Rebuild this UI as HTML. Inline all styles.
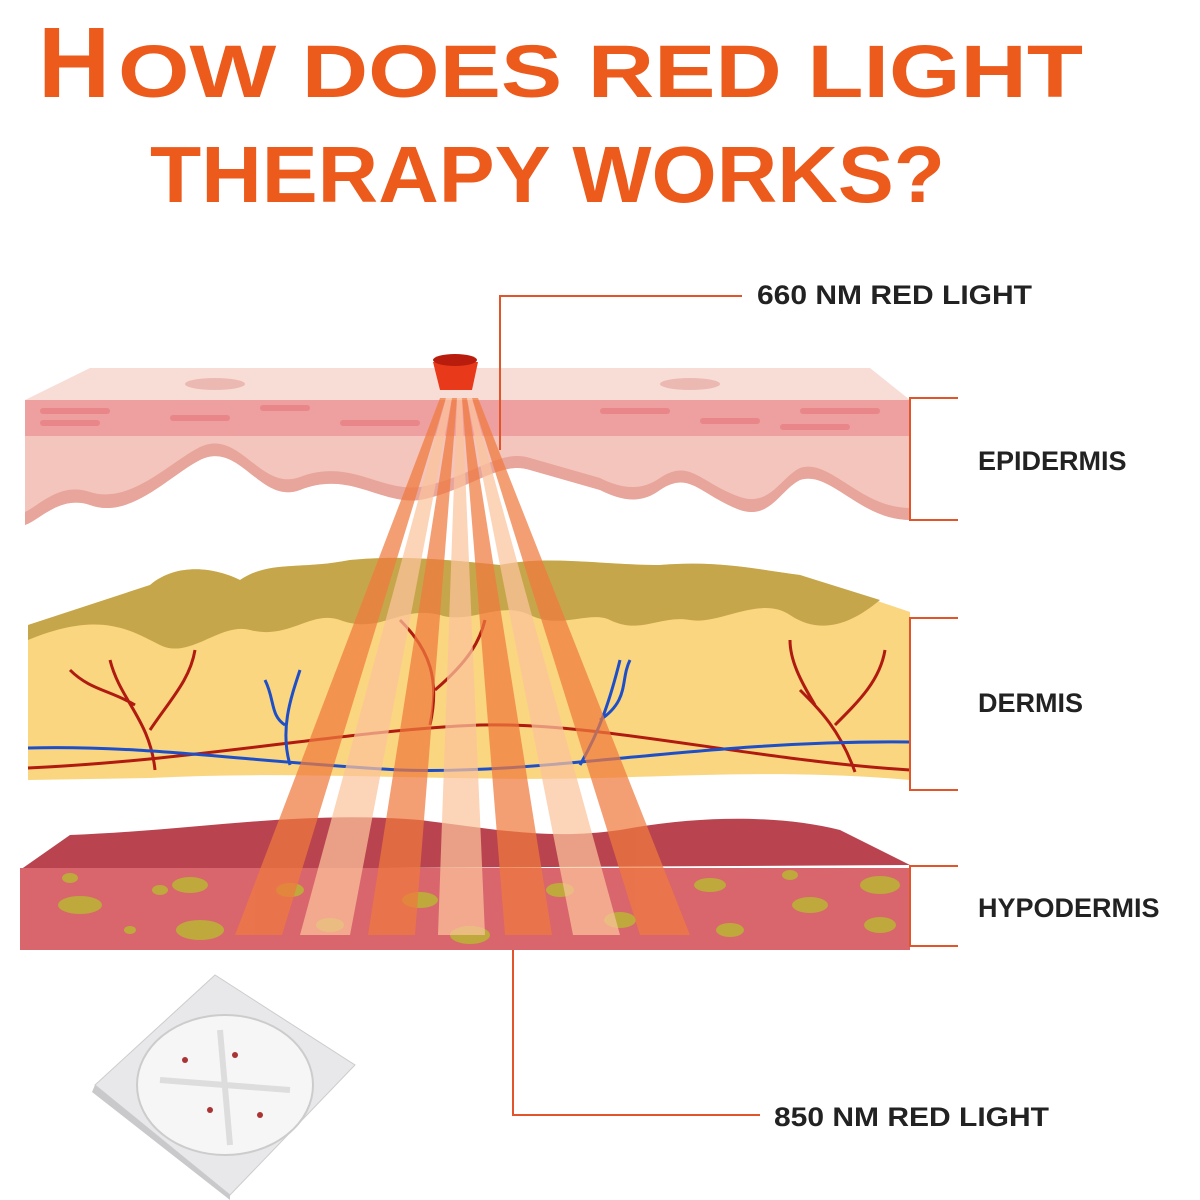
<!DOCTYPE html>
<html><head><style>
body{margin:0;background:#fff;}
svg{display:block;}
</style></head><body>
<svg width="1200" height="1200" viewBox="0 0 1200 1200" xmlns="http://www.w3.org/2000/svg">
<rect width="1200" height="1200" fill="#fff"/>
<!-- Title -->
<g font-family="Liberation Sans, sans-serif" font-weight="bold" fill="#ec5a1c">
<text x="38" y="97" font-size="100">H</text>
<text x="118" y="97" font-size="74" textLength="965" lengthAdjust="spacingAndGlyphs">OW DOES RED LIGHT</text>
<text x="150" y="202" font-size="80" textLength="795" lengthAdjust="spacingAndGlyphs">THERAPY WORKS?</text>
</g>
<!-- Epidermis -->
<polygon points="25,400 90,368 870,368 910,400" fill="#f8dcd6"/>
<ellipse cx="215" cy="384" rx="30" ry="6" fill="#ecb8b2"/>
<ellipse cx="690" cy="384" rx="30" ry="6" fill="#ecb8b2"/>
<path d="M25,400 H910 V520 C860,520 830,470 800,480 C780,490 770,520 740,510 C700,495 690,470 660,490 C640,505 620,500 600,490 L530,470 C500,460 470,490 420,500 C380,505 350,470 300,490 C260,505 240,440 200,460 C170,475 130,520 90,505 C60,495 40,520 25,525 Z" fill="#f4c5bc"/>
<path d="M25,512 C40,505 60,482 90,492 C130,505 170,462 200,447 C240,428 260,492 300,477 C350,458 380,492 420,487 C470,478 500,448 530,458 L600,478 C620,488 640,492 660,478 C690,458 700,483 740,497 C770,507 780,478 800,468 C830,458 860,508 910,508 V520 C860,520 830,470 800,480 C780,490 770,520 740,510 C700,495 690,470 660,490 C640,505 620,500 600,490 L530,470 C500,460 470,490 420,500 C380,505 350,470 300,490 C260,505 240,440 200,460 C170,475 130,520 90,505 C60,495 40,520 25,525 Z" fill="#e7a59c"/>
<rect x="25" y="400" width="885" height="36" fill="#ee9fa0"/>
<g fill="#e9868a">
<rect x="40" y="408" width="70" height="6" rx="3"/><rect x="170" y="415" width="60" height="6" rx="3"/><rect x="260" y="405" width="50" height="6" rx="3"/>
<rect x="40" y="420" width="60" height="6" rx="3"/><rect x="340" y="420" width="80" height="6" rx="3"/><rect x="600" y="408" width="70" height="6" rx="3"/>
<rect x="700" y="418" width="60" height="6" rx="3"/><rect x="800" y="408" width="80" height="6" rx="3"/><rect x="780" y="424" width="70" height="6" rx="3"/>
</g>
<!-- Dermis -->
<path d="M28,625 L150,585 C180,560 220,570 240,580 C270,560 300,570 350,560 C400,555 450,560 500,565 C550,555 600,565 660,565 C720,560 760,570 800,575 L910,612 V780 C800,770 700,775 600,778 C450,782 300,770 150,778 L28,780 Z" fill="#f9d67f"/>
<path d="M28,625 L150,585 C180,560 220,570 240,580 C270,560 300,570 350,560 C400,555 450,560 500,565 C550,555 600,565 660,565 C720,560 760,570 800,575 L880,600 C850,625 820,635 790,615 C760,595 720,625 690,620 C660,615 640,635 610,620 C590,610 560,630 530,615 C500,600 470,625 440,615 C400,605 380,635 340,620 C310,610 290,640 250,630 C220,622 190,660 160,645 C130,630 100,610 28,640 Z" fill="#c6a64a"/>
<g stroke="#b01a10" stroke-width="3" fill="none">
<path d="M28,768 C200,760 350,730 480,725 C600,722 750,760 910,770"/>
<path d="M155,770 C150,720 120,700 110,660 M150,730 C170,700 190,680 195,650 M135,705 C110,690 90,690 70,670"/>
<path d="M430,725 C440,680 430,650 400,620 M435,690 C470,660 480,640 485,620"/>
<path d="M855,772 C840,730 820,710 800,690 M835,725 C860,700 880,680 885,650 M815,705 C800,680 790,660 790,640"/>
</g>
<g stroke="#1e4fc8" stroke-width="3" fill="none">
<path d="M28,748 C150,745 250,762 400,770 C550,775 700,740 910,742"/>
<path d="M290,765 C280,730 290,700 300,670 M285,725 C270,715 275,700 265,680"/>
<path d="M580,765 C600,730 610,700 620,660 M600,720 C630,700 620,680 630,660"/>
</g>
<!-- Hypodermis -->
<path d="M20,870 L70,835 C200,830 300,810 420,820 C500,830 550,840 620,830 C700,815 780,815 840,830 L910,865 Z" fill="#b9444f"/>
<rect x="20" y="868" width="890" height="82" fill="#d9656d"/>
<g fill="#bfa83c">
<ellipse cx="70" cy="878" rx="8" ry="5"/><ellipse cx="80" cy="905" rx="22" ry="9"/><ellipse cx="160" cy="890" rx="8" ry="5"/><ellipse cx="200" cy="930" rx="24" ry="10"/><ellipse cx="130" cy="930" rx="6" ry="4"/>
<ellipse cx="190" cy="885" rx="18" ry="8"/><ellipse cx="290" cy="890" rx="14" ry="7"/><ellipse cx="330" cy="925" rx="14" ry="7"/><ellipse cx="420" cy="900" rx="18" ry="8"/>
<ellipse cx="470" cy="935" rx="20" ry="9"/><ellipse cx="560" cy="890" rx="14" ry="7"/><ellipse cx="620" cy="920" rx="16" ry="8"/><ellipse cx="710" cy="885" rx="16" ry="7"/>
<ellipse cx="730" cy="930" rx="14" ry="7"/><ellipse cx="810" cy="905" rx="18" ry="8"/><ellipse cx="880" cy="885" rx="20" ry="9"/><ellipse cx="880" cy="925" rx="16" ry="8"/><ellipse cx="790" cy="875" rx="8" ry="5"/>
</g>
<!-- Beams -->
<g opacity="0.72">
<polygon points="440,398 446,398 282,935 235,935" fill="#f07a3e"/>
<polygon points="446,398 452,398 350,935 300,935" fill="#fcc49c"/>
<polygon points="452,398 457,398 415,935 368,935" fill="#f07a3e"/>
<polygon points="457,398 462,398 485,935 438,935" fill="#fcc49c"/>
<polygon points="462,398 467,398 552,935 505,935" fill="#f07a3e"/>
<polygon points="467,398 472,398 620,935 573,935" fill="#fcc49c"/>
<polygon points="472,398 478,398 690,935 640,935" fill="#f07a3e"/>
</g>
<!-- LED -->
<path d="M433,362 H478 L472,390 H440 Z" fill="#e83a1a"/>
<ellipse cx="455" cy="360" rx="22" ry="6" fill="#b81c0c"/>
<!-- brackets -->
<g stroke="#e2542a" stroke-width="2" fill="none">
<path d="M958,398 H910 V520 H958"/>
<path d="M958,618 H910 V790 H958"/>
<path d="M958,866 H910 V946 H958"/>
<path d="M500,450 V296 H742"/>
<path d="M513,950 V1115 H760"/>
</g>
<g font-family="Liberation Sans, sans-serif" font-weight="bold" fill="#222" font-size="27">
<text x="757" y="304" textLength="275" lengthAdjust="spacingAndGlyphs">660 NM RED LIGHT</text>
<text x="978" y="470">EPIDERMIS</text>
<text x="978" y="712">DERMIS</text>
<text x="978" y="917">HYPODERMIS</text>
<text x="774" y="1126" textLength="275" lengthAdjust="spacingAndGlyphs">850 NM RED LIGHT</text>
</g>
<!-- LED chip -->
<polygon points="95,1085 215,975 355,1065 230,1195" fill="#e8e8ea" stroke="#ccc"/>
<polygon points="95,1085 230,1195 230,1200 92,1092" fill="#c9c9cc"/>
<ellipse cx="225" cy="1085" rx="88" ry="70" fill="#f6f6f7" stroke="#ccc" stroke-width="2"/>
<g stroke="#ddd" stroke-width="6" fill="none"><path d="M160,1080 L290,1090 M220,1030 L230,1145"/></g>
<g fill="#a33"><circle cx="185" cy="1060" r="3"/><circle cx="235" cy="1055" r="3"/><circle cx="210" cy="1110" r="3"/><circle cx="260" cy="1115" r="3"/></g>
</svg>
</body></html>
